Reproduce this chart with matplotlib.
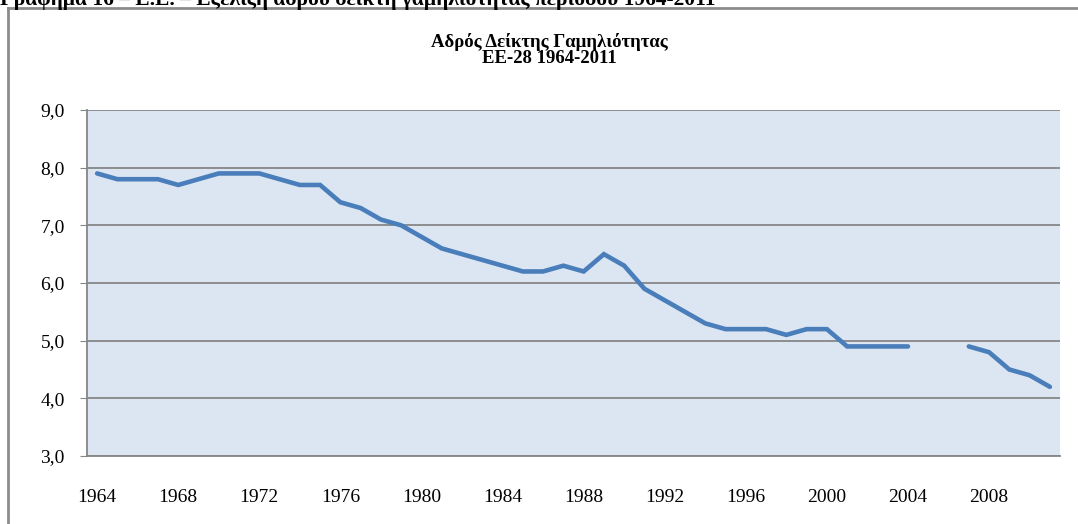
import numpy as np
import matplotlib.pyplot as plt
from matplotlib.lines import Line2D

# Crude marriage rate, EU-28, 1964-2011 (2005 and 2006 missing)
years = list(range(1964, 2012))
rate = [7.9, 7.8, 7.8, 7.8, 7.7, 7.8, 7.9, 7.9, 7.9, 7.8,
        7.7, 7.7, 7.4, 7.3, 7.1, 7.0, 6.8, 6.6, 6.5, 6.4,
        6.3, 6.2, 6.2, 6.3, 6.2, 6.5, 6.3, 5.9, 5.7, 5.5,
        5.3, 5.2, 5.2, 5.2, 5.1, 5.2, 5.2, 4.9, 4.9, 4.9,
        4.9, np.nan, np.nan, 4.9, 4.8, 4.5, 4.4, 4.2]
y_ticks = [3.0, 4.0, 5.0, 6.0, 7.0, 8.0, 9.0]
y_labels = ['3,0', '4,0', '5,0', '6,0', '7,0', '8,0', '9,0']

serif = 'Liberation Serif'
fig = plt.figure(figsize=(10.78, 5.24), dpi=100)

# caption of the page, cut off at the top edge (as in the source document)
fig.text(0.0, 1 - 5 / 524, 'Γράφημα 16 – Ε.Ε. – Εξέλιξη αδρού δείκτη γαμηλιότητας περιόδου 1964-2011',
         family=serif, fontsize=15.5, fontweight='bold', ha='left', va='baseline')

# outer chart frame (left and top edges visible)
frame_col = '#8c8c8c'
fig.add_artist(Line2D([8 / 1078, 8 / 1078], [0, 1 - 8 / 524], transform=fig.transFigure,
                      color=frame_col, lw=2))
fig.add_artist(Line2D([8 / 1078, 1], [1 - 8 / 524, 1 - 8 / 524], transform=fig.transFigure,
                      color=frame_col, lw=2))

ax = fig.add_axes([87 / 1078, 1 - 456 / 524, (1060 - 87) / 1078, (456 - 110) / 524])
ax.set_facecolor('#dce6f2')

x = np.arange(len(years))
ax.plot(x, rate, color='#4a7ebb', lw=3.3, solid_capstyle='round', solid_joinstyle='miter', zorder=3)

ax.set_xlim(-0.5, len(years) - 0.5)
ax.set_ylim(3.0, 9.0)
ax.set_yticks(y_ticks)
ax.set_yticklabels(y_labels, family=serif, fontsize=14)
ax.set_xticks(x[::4])
ax.set_xticklabels([str(y) for y in years[::4]], family=serif, fontsize=14)

ax.grid(axis='y', color='#868686', lw=1.3, zorder=1)
ax.set_axisbelow(True)
for s in ['top', 'right']:
    ax.spines[s].set_visible(False)
for s in ['left', 'bottom']:
    ax.spines[s].set_color('#868686')
    ax.spines[s].set_linewidth(1.3)
ax.tick_params(axis='y', length=5, color='#868686', pad=11)
ax.tick_params(axis='x', length=0, pad=24)

fig.text(549 / 1078, 1 - 50 / 524, 'Αδρός Δείκτης Γαμηλιότητας\nΕΕ-28 1964-2011',
         family=serif, fontsize=13.5, fontweight='bold', ha='center', va='center',
         linespacing=0.95)

plt.savefig('out.png', dpi=100)
